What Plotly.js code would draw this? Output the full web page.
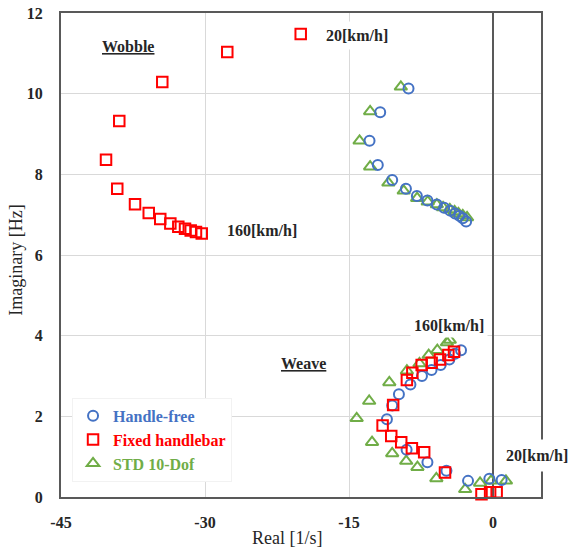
<!DOCTYPE html>
<html>
<head>
<meta charset="utf-8">
<script src="https://cdn.plot.ly/plotly-3.0.1.min.js"></script>
<style>html,body{margin:0;padding:0;background:#fff;}#chart{width:573px;height:553px;}</style>
</head>
<body>
<div id="chart"></div>
<script>
// ---- Data ----
const seriesNames = ["Handle-free", "Fixed handlebar", "STD 10-Dof"];

// Wobble mode
const hfWobbleX = [-8.8, -11.75, -12.86, -12.0, -10.5, -9.07, -7.93, -6.83, -5.85, -5.09, -4.47, -3.95, -3.5, -3.15, -2.8];
const hfWobbleY = [10.13, 9.54, 8.83, 8.23, 7.86, 7.64, 7.46, 7.35, 7.25, 7.17, 7.10, 7.03, 6.97, 6.91, 6.83];
const fhWobbleX = [-20.03, -27.68, -34.45, -38.93, -40.31, -39.14, -37.29, -35.86, -34.66, -33.61, -32.78, -32.08, -31.49, -30.94, -30.34];
const fhWobbleY = [11.48, 11.03, 10.29, 9.32, 8.36, 7.64, 7.26, 7.04, 6.89, 6.78, 6.70, 6.65, 6.61, 6.57, 6.53];
const stdWobbleX = [-9.6, -12.8, -13.9, -12.8, -10.9, -9.3, -7.9, -6.8, -5.85, -5.2, -4.5, -4.0, -3.6, -3.15, -2.7];
const stdWobbleY = [10.17, 9.56, 8.83, 8.19, 7.79, 7.59, 7.41, 7.32, 7.25, 7.18, 7.13, 7.08, 7.03, 6.98, 6.93];

// Weave mode
const hfWeaveX = [0.9, -0.38, -2.6, -4.85, -6.83, -9.0, -11.05, -10.5, -9.8, -8.6, -7.4, -6.4, -5.45, -4.55, -3.96, -3.33];
const hfWeaveY = [0.42, 0.45, 0.40, 0.65, 0.86, 1.17, 1.93, 2.27, 2.55, 2.79, 3.0, 3.15, 3.27, 3.41, 3.55, 3.64];
const fhWeaveX = [0.38, -0.3, -1.2, -5.0, -7.17, -8.45, -9.56, -10.6, -11.5, -10.4, -8.97, -8.4, -7.43, -6.39, -5.52, -4.65, -4.06];
const fhWeaveY = [0.12, 0.12, 0.07, 0.61, 1.11, 1.21, 1.36, 1.51, 1.77, 2.28, 2.90, 3.08, 3.27, 3.33, 3.41, 3.52, 3.60];
const stdWeaveX = [1.35, -0.2, -1.35, -2.9, -5.9, -7.87, -9.04, -10.5, -12.6, -14.2, -12.9, -10.8, -8.97, -7.66, -6.7, -5.8, -4.8, -4.5];
const stdWeaveY = [0.40, 0.40, 0.35, 0.19, 0.46, 0.74, 0.89, 1.08, 1.36, 1.95, 2.38, 2.84, 3.13, 3.31, 3.52, 3.64, 3.83, 3.89];

const xTickVals = [-45, -30, -15, 0];
const xTickText = ["-45", "-30", "-15", "0"];
const yTickVals = [0, 2, 4, 6, 8, 10, 12];
const yTickText = ["0", "2", "4", "6", "8", "10", "12"];

// ---- Styles ----
const colors = ["#4472C4", "#FF0000", "#70AD47"];
const symbols = ["circle-open", "square-open", "triangle-up-open"];
const sizes = [10, 10.5, 11];
const serif = "Liberation Serif, Times New Roman, serif";

const xs = [hfWobbleX.concat(hfWeaveX), fhWobbleX.concat(fhWeaveX), stdWobbleX.concat(stdWeaveX)];
const ys = [hfWobbleY.concat(hfWeaveY), fhWobbleY.concat(fhWeaveY), stdWobbleY.concat(stdWeaveY)];

// Draw order: triangles under circles, squares on top
const order = [2, 0, 1];
const traces = order.map(i => ({
  type: "scatter",
  mode: "markers",
  x: xs[i],
  y: ys[i],
  name: '<span style="color:' + colors[i] + '">' + seriesNames[i] + '</span>',
  legendrank: i + 1,
  marker: { symbol: symbols[i], size: sizes[i], color: colors[i], line: { color: colors[i], width: 2 } },
  cliponaxis: false,
  hoverinfo: "x+y"
}));

const annFont = { family: serif, size: 16, color: "#262626", weight: "bold" };
const layout = {
  width: 573, height: 553,
  margin: { l: 61, r: 32, t: 13, b: 56 },
  paper_bgcolor: "#ffffff",
  plot_bgcolor: "#ffffff",
  showlegend: true,
  legend: {
    x: 0.023, y: 0.205, xanchor: "left", yanchor: "top",
    bgcolor: "#ffffff", bordercolor: "#f2f2f2", borderwidth: 1,
    font: { family: serif, size: 16, weight: "bold" },
    tracegroupgap: 0, itemsizing: "trace", traceorder: "normal"
  },
  xaxis: {
    range: [-45, 5], tickmode: "array", tickvals: xTickVals, ticktext: xTickText,
    showgrid: true, gridcolor: "#d9d9d9", gridwidth: 1,
    zeroline: true, zerolinecolor: "#595959", zerolinewidth: 2,
    showline: true, mirror: true, linecolor: "#595959", linewidth: 2,
    ticks: "", ticklabelstandoff: 10,
    tickfont: { family: serif, size: 16, color: "#262626", weight: "bold" },
    fixedrange: true
  },
  yaxis: {
    range: [0, 12], tickmode: "array", tickvals: yTickVals, ticktext: yTickText,
    showgrid: true, gridcolor: "#d9d9d9", gridwidth: 1,
    zeroline: false,
    showline: true, mirror: true, linecolor: "#595959", linewidth: 2,
    ticks: "", ticklabelstandoff: 13,
    tickfont: { family: serif, size: 16, color: "#262626", weight: "bold" },
    fixedrange: true
  },
  annotations: [
    { text: "Real [1/s]", xref: "paper", yref: "paper", x: 0.471, y: -0.085, xanchor: "center", yanchor: "middle", showarrow: false,
      font: { family: serif, size: 18, color: "#262626" } },
    { text: "Imaginary [Hz]", xref: "paper", yref: "paper", x: -0.094, y: 0.49, xanchor: "center", yanchor: "middle", textangle: -90, showarrow: false,
      font: { family: serif, size: 18, color: "#262626" } },
    { text: "<u>Wobble</u>", x: -38.0, y: 11.16, showarrow: false, font: annFont },
    { text: "<u>Weave</u>", x: -19.7, y: 3.30, showarrow: false, font: annFont },
    { text: "20[km/h]", x: -14.2, y: 11.43, showarrow: false, font: annFont, bgcolor: "#ffffff", borderpad: 5 },
    { text: "160[km/h]", x: -24.06, y: 6.6, showarrow: false, font: annFont },
    { text: "160[km/h]", x: -4.58, y: 4.26, showarrow: false, font: annFont, bgcolor: "#ffffff", borderpad: 3 },
    { text: "20[km/h]", x: 4.58, y: 1.04, showarrow: false, font: annFont, bgcolor: "#ffffff", borderpad: 7 }
  ]
};

Plotly.newPlot("chart", traces, layout, { displayModeBar: false, staticPlot: true });
</script>
</body>
</html>
